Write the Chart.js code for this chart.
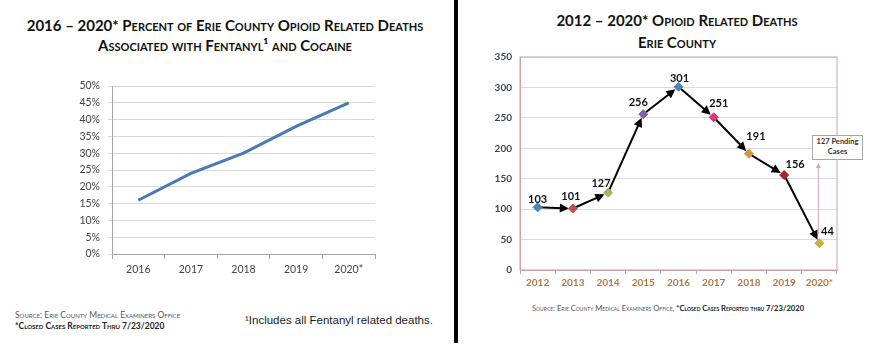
<!DOCTYPE html>
<html>
<head>
<meta charset="utf-8">
<script src="https://cdn.jsdelivr.net/npm/chart.js@4"></script>
<style>
  body { margin: 0; background: #fff; }
  #page { position: relative; width: 880px; height: 349px; overflow: hidden; background: #fff; font-family: Lato, "Open Sans", sans-serif; }
  .title { position: absolute; text-align: center; font-weight: bold; font-variant: small-caps; color: #111; }
  .note { position: absolute; font-variant: small-caps; font-size: 8.5px; color: #555; white-space: nowrap; }
  .note b { color: #222; }
  canvas { position: absolute; top: 0; }
</style>
</head>
<body>
<div id="page">
  <div class="title" style="left:0; top:15px; width:450px; font-size:15px; line-height:20px;">
    2016 – 2020* Percent of Erie County Opioid Related Deaths<br>Associated with Fentanyl¹ and Cocaine
  </div>
  <canvas id="pctChart" width="450" height="300" style="left:0;"></canvas>
  <div class="note" style="left:15px; top:310px; line-height:11px;">
    Source: Erie County Medical Examiners Office<br><b>*Closed Cases Reported Thru 7/23/2020</b>
  </div>
  <div style="position:absolute; left:245px; top:314px; font-family:'Liberation Sans', Arial, sans-serif; font-size:11.5px; color:#222; white-space:nowrap;">¹Includes all Fentanyl related deaths.</div>

  <div style="position:absolute; left:454px; top:0; width:4px; height:343px; background:#000;"></div>

  <div class="title" style="left:477px; top:9px; width:400px; font-size:15px; line-height:22px;">
    2012 – 2020* Opioid Related Deaths<br>Erie County
  </div>
  <canvas id="deathChart" width="420" height="300" style="left:460px;"></canvas>
  <div style="position:absolute; left:812px; top:135px; width:49px; height:22px; border:1px solid #a6a6a6; background:#fff; text-align:center; font-size:7.5px; line-height:10px; font-weight:bold; color:#333; padding-top:1px; box-sizing:content-box;">127 Pending<br>Cases</div>
  <div class="note" style="left:532px; top:303px; font-size:7.6px;">
    Source: Erie County Medical Examiners Office, <b>*Closed Cases Reported thru 7/23/2020</b>
  </div>
</div>

<script>
// left chart: % of opioid deaths with fentanyl and cocaine
const pctYears = ['2016', '2017', '2018', '2019', '2020*'];
const pctValues = [16, 24, 30, 38, 45];

// right chart: opioid related deaths
const deathYears = ['2012', '2013', '2014', '2015', '2016', '2017', '2018', '2019', '2020*'];
const deathValues = [103, 101, 127, 256, 301, 251, 191, 156, 44];
const pendingCases = 127;
const deathTicks = [0, 50, 100, 150, 200, 250, 300, 350];

const markerColors = ['#4f81bd', '#c0504d', '#9bbb59', '#8064a2', '#4f81bd', '#e8327a', '#d9944a', '#a32424', '#c8b23c'];

new Chart(document.getElementById('pctChart'), {
    type: 'line',
    data: {
        labels: pctYears,
        datasets: [{
            data: pctValues,
            borderColor: '#4a7ab5',
            borderWidth: 3,
            pointRadius: 0,
            tension: 0
        }]
    },
    options: {
        responsive: false,
        animation: false,
        layout: { padding: { left: 72, right: 75, top: 86, bottom: 16 } },
        plugins: { legend: { display: false }, tooltip: { enabled: false } },
        scales: {
            x: {
                offset: true,
                afterFit: s => { s.height = 30; },
                grid: { offset: true, drawOnChartArea: false, tickLength: 5, color: '#a6a6a6' },
                border: { color: '#a6a6a6' },
                ticks: { color: '#444', padding: 4, font: { family: 'Lato', size: 10.5 } }
            },
            y: {
                min: 0, max: 50,
                afterFit: s => { s.width = 40; },
                grid: { color: '#d9d9d9', tickLength: 4 },
                border: { color: '#a6a6a6' },
                ticks: { stepSize: 5, padding: 8, color: '#444', font: { family: 'Lato', size: 10.5 }, callback: v => v + '%' }
            }
        }
    }
});

// black arrows between the points, plus the pending-cases arrow
const arrowPlugin = {
    id: 'arrows',
    beforeDatasetsDraw(chart) {
        const ctx = chart.ctx;
        const pts = chart.getDatasetMeta(0).data;
        const area = chart.chartArea;
        ctx.save();
        ctx.strokeStyle = '#c9a3a3';
        ctx.lineWidth = 1;
        ctx.strokeRect(area.left, area.top, area.right - area.left, area.bottom - area.top);

        ctx.strokeStyle = '#000';
        ctx.fillStyle = '#000';
        ctx.lineWidth = 2;
        for (let i = 0; i < pts.length - 1; i++) {
            const a = pts[i], b = pts[i + 1];
            const ang = Math.atan2(b.y - a.y, b.x - a.x);
            const tx = b.x - Math.cos(ang) * 4, ty = b.y - Math.sin(ang) * 4;
            ctx.beginPath();
            ctx.moveTo(a.x, a.y);
            ctx.lineTo(tx - Math.cos(ang) * 6, ty - Math.sin(ang) * 6);
            ctx.stroke();
            ctx.beginPath();
            ctx.moveTo(tx, ty);
            ctx.lineTo(tx - Math.cos(ang) * 9 + Math.sin(ang) * 4.5, ty - Math.sin(ang) * 9 - Math.cos(ang) * 4.5);
            ctx.lineTo(tx - Math.cos(ang) * 9 - Math.sin(ang) * 4.5, ty - Math.sin(ang) * 9 + Math.cos(ang) * 4.5);
            ctx.closePath();
            ctx.fill();
        }

        // pending cases
        const last = pts[pts.length - 1];
        const yTop = chart.scales.y.getPixelForValue(deathValues[deathValues.length - 1] + pendingCases) - 3;
        const x = last.x - 1;
        ctx.strokeStyle = '#d6a5b2';
        ctx.fillStyle = '#d6a5b2';
        ctx.lineWidth = 1;
        ctx.beginPath();
        ctx.moveTo(x, last.y - 9);
        ctx.lineTo(x, yTop + 4);
        ctx.stroke();
        ctx.beginPath();
        ctx.moveTo(x, yTop);
        ctx.lineTo(x - 2.5, yTop + 5);
        ctx.lineTo(x + 2.5, yTop + 5);
        ctx.closePath();
        ctx.fill();
        ctx.restore();
    },
    afterDatasetsDraw(chart) {
        // value labels
        const offs = [[0, -8], [-2, -12], [-7, -9], [-5, -12], [1, -8], [5, -14], [7, -17], [11, -11], [8, -12]];
        const ctx = chart.ctx;
        const pts = chart.getDatasetMeta(0).data;
        ctx.save();
        ctx.font = 'bold 11px Lato';
        ctx.fillStyle = '#111';
        ctx.textAlign = 'center';
        ctx.textBaseline = 'middle';
        pts.forEach((p, i) => {
            ctx.fillText(String(deathValues[i]), p.x + offs[i][0], p.y + offs[i][1]);
        });
        ctx.restore();
    }
};

new Chart(document.getElementById('deathChart'), {
    type: 'line',
    data: {
        labels: deathYears,
        datasets: [{
            data: deathValues,
            showLine: false,
            pointStyle: 'rectRot',
            pointRadius: 4.5,
            pointBackgroundColor: markerColors,
            pointBorderColor: markerColors,
            pointBorderWidth: 1
        }]
    },
    options: {
        responsive: false,
        animation: false,
        layout: { padding: { left: 30, right: 43, top: 57, bottom: 5 } },
        plugins: { legend: { display: false }, tooltip: { enabled: false } },
        scales: {
            x: {
                offset: true,
                afterFit: s => { s.height = 25; },
                grid: { offset: true, drawOnChartArea: false, tickLength: 4, color: '#c9a3a3' },
                border: { color: '#c9a3a3' },
                ticks: { color: '#b8773c', padding: 3, font: { family: 'Lato', size: 10, weight: 'bold' } }
            },
            y: {
                min: 0, max: 350,
                afterFit: s => { s.width = 30; },
                afterBuildTicks: s => { s.ticks = deathTicks.map(v => ({ value: v })); },
                grid: { color: '#dcdcdc', drawTicks: false },
                border: { color: '#c9a3a3' },
                ticks: { padding: 8, color: '#3b4656', font: { family: 'Lato', size: 10, weight: 'bold' } }
            }
        }
    },
    plugins: [arrowPlugin]
});
</script>
</body>
</html>
